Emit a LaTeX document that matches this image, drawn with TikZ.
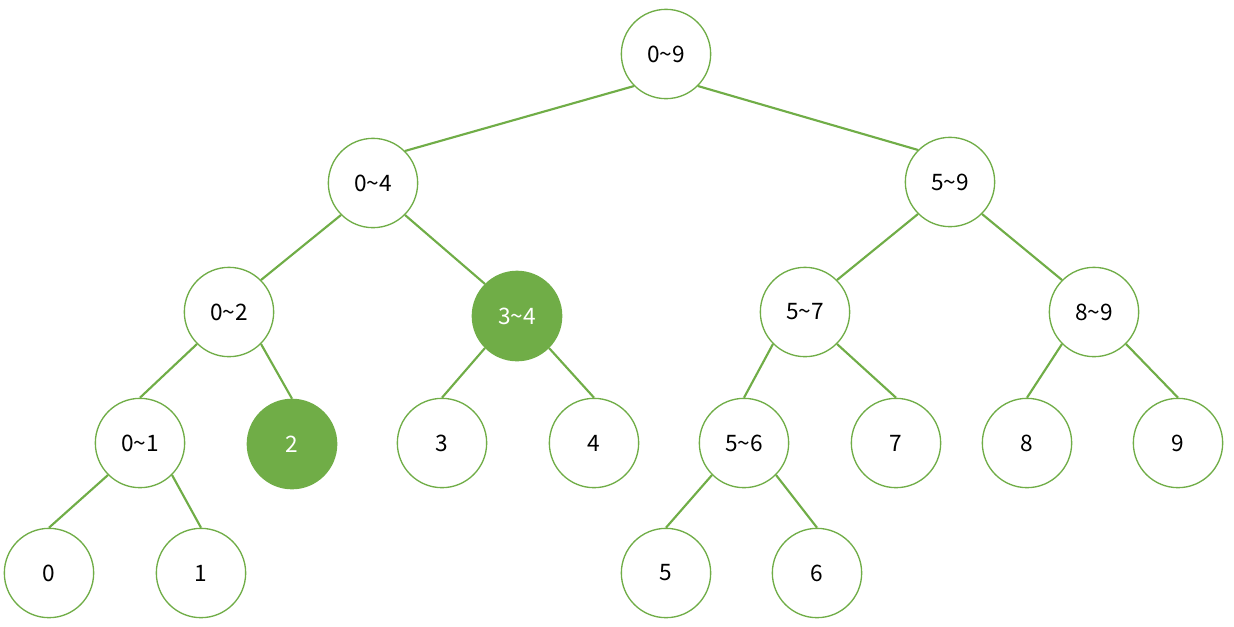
\documentclass[tikz,border=0pt]{standalone}
\usepackage{fontspec}
\setmainfont{Noto Sans CJK SC}
\definecolor{gr}{HTML}{70AD47}
\begin{document}
\begin{tikzpicture}[x=0.75pt,y=-0.75pt,
  nd/.style={circle,draw=gr,line width=1pt,fill=white,minimum size=67pt,inner sep=0pt,font=\fontsize{17}{20}\selectfont},
  hl/.style={nd,fill=gr,text=white},
  ed/.style={draw=gr,line width=1.6pt}]
\useasboundingbox (0,0) rectangle (1234,626);
\node[nd] (n09) at (666,54) {0\textasciitilde 9};
\node[nd] (n04) at (373,183) {0\textasciitilde 4};
\node[nd] (n59) at (950,182) {5\textasciitilde 9};
\node[nd] (n02) at (229,312) {0\textasciitilde 2};
\node[hl] (n34) at (517,316) {3\textasciitilde 4};
\node[nd] (n57) at (805,312) {5\textasciitilde 7};
\node[nd] (n89) at (1094,312) {8\textasciitilde 9};
\node[nd] (n01) at (140,443) {0\textasciitilde 1};
\node[hl] (n2) at (292,444) {2};
\node[nd] (n3) at (442,443) {3};
\node[nd] (n4) at (594,443) {4};
\node[nd] (n56) at (744,443) {5\textasciitilde 6};
\node[nd] (n7) at (896,443) {7};
\node[nd] (n8) at (1027,443) {8};
\node[nd] (n9) at (1178,443) {9};
\node[nd] (n0) at (49,573) {0};
\node[nd] (n1) at (201,573) {1};
\node[nd] (n5) at (666,573) {5};
\node[nd] (n6) at (817,573) {6};
\draw[ed] (n09.south west) -- (n04.north east);
\draw[ed] (n09.south east) -- (n59.north west);
\draw[ed] (n04.south west) -- (n02.north east);
\draw[ed] (n04.south east) -- (n34.north west);
\draw[ed] (n02.south west) -- (n01.north);
\draw[ed] (n02.south east) -- (n2.north);
\draw[ed] (n34.south west) -- (n3.north);
\draw[ed] (n34.south east) -- (n4.north);
\draw[ed] (n59.south west) -- (n57.north east);
\draw[ed] (n59.south east) -- (n89.north west);
\draw[ed] (n57.south west) -- (n56.north);
\draw[ed] (n57.south east) -- (n7.north);
\draw[ed] (n89.south west) -- (n8.north);
\draw[ed] (n89.south east) -- (n9.north);
\draw[ed] (n01.south west) -- (n0.north);
\draw[ed] (n01.south east) -- (n1.north);
\draw[ed] (n56.south west) -- (n5.north);
\draw[ed] (n56.south east) -- (n6.north);
\end{tikzpicture}
\end{document}
